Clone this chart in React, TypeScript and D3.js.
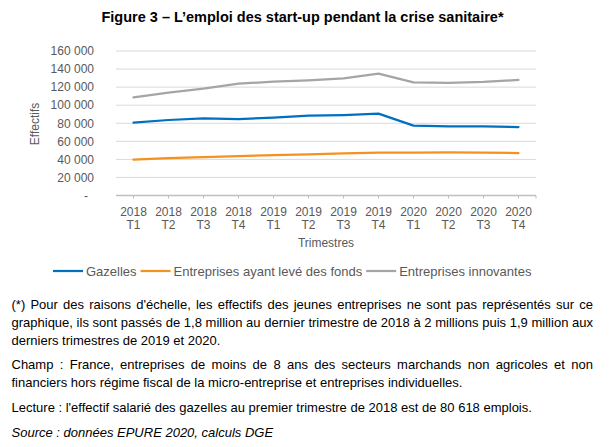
import React from "react";
import * as d3 from "d3";

const years = ["2018", "2018", "2018", "2018", "2019", "2019", "2019", "2019", "2020", "2020", "2020", "2020"];
const quarters = ["T1", "T2", "T3", "T4", "T1", "T2", "T3", "T4", "T1", "T2", "T3", "T4"];
const categories = years.map((y, i) => `${y} ${quarters[i]}`);

const gazelles = [80618, 83600, 85500, 84700, 86200, 88400, 89100, 90600, 77300, 76600, 76600, 75800];
const levees = [39700, 41500, 42600, 43700, 44800, 45600, 46700, 47400, 47400, 47800, 47400, 47000];
const innovantes = [108700, 113800, 118300, 123800, 126000, 127600, 129700, 134900, 125300, 124600, 125700, 127900];

const seriesNames = ["Gazelles", "Entreprises ayant levé des fonds", "Entreprises innovantes"];
const seriesColors = ["#0070C0", "#F59120", "#A5A5A5"];
const seriesValues = [gazelles, levees, innovantes];

const yTicks = [0, 20000, 40000, 60000, 80000, 100000, 120000, 140000, 160000];

const title = "Figure 3 – L’emploi des start-up pendant la crise sanitaire*";
const yTitle = "Effectifs";
const xTitle = "Trimestres";

const notes: { text: string; justify: boolean; italic?: boolean; gapBefore: number }[] = [
  { text: "(*) Pour des raisons d'échelle, les effectifs des jeunes entreprises ne sont pas représentés sur ce", justify: true, gapBefore: 0 },
  { text: "graphique, ils sont passés de 1,8 million au dernier trimestre de 2018 à 2 millions puis 1,9 million aux", justify: true, gapBefore: 0 },
  { text: "derniers trimestres de 2019 et 2020.", justify: false, gapBefore: 0 },
  { text: "Champ : France, entreprises de moins de 8 ans des secteurs marchands non agricoles et non", justify: true, gapBefore: 1 },
  { text: "financiers hors régime fiscal de la micro-entreprise et entreprises individuelles.", justify: false, gapBefore: 0 },
  { text: "Lecture : l'effectif salarié des gazelles au premier trimestre de 2018 est de 80 618 emplois.", justify: false, gapBefore: 1 },
  { text: "Source : données EPURE 2020, calculs DGE", justify: false, italic: true, gapBefore: 1 },
];

const FONT = "'Liberation Sans', Arial, sans-serif";

let ctx: CanvasRenderingContext2D | null = null;
function measure(text: string, font: string): number {
  if (!ctx) ctx = document.createElement("canvas").getContext("2d");
  if (!ctx) return text.length * 6;
  ctx.font = font;
  return ctx.measureText(text).width;
}

const locale = d3.formatLocale({ thousands: " ", grouping: [3], decimal: ",", currency: ["", " €"] });
const fmt = locale.format(",");

export default function App() {
  const W = 612, H = 447;
  const left = 116, right = 536, top = 51, bottom = 195.5;
  const x = d3.scaleBand<string>().domain(categories).range([left, right]).padding(0);
  const y = d3.scaleLinear().domain([0, 160000]).range([bottom, top]);
  const cx = (c: string) => (x(c) as number) + x.bandwidth() / 2;
  const line = d3.line<number>().x((_, i) => cx(categories[i])).y((v) => y(v));

  // legend layout
  const legFont = `13px ${FONT}`;
  let lx = 53;
  const legendItems = seriesNames.map((n, i) => {
    const item = { x: lx, name: n, color: seriesColors[i] };
    lx += 30 + 3 + measure(n, legFont) + 4;
    return item;
  });

  // notes layout
  const noteLeft = 11.5, noteRight = 593;
  let ny = 309;
  const noteEls = notes.map((n, i) => {
    if (i > 0) ny += 17.8 + n.gapBefore * 7;
    const font = `${n.italic ? "italic " : ""}13px ${FONT}`;
    let ws = 0;
    if (n.justify) {
      const w = measure(n.text, font);
      const spaces = (n.text.match(/ /g) || []).length;
      ws = (noteRight - noteLeft - w) / spaces;
    }
    return (
      <text key={i} x={noteLeft} y={ny} fontSize={13} fontFamily={FONT} fill="#000"
        fontStyle={n.italic ? "italic" : "normal"} style={{ wordSpacing: `${ws}px` }}>
        {n.text}
      </text>
    );
  });

  return (
    <svg width={W} height={H} style={{ position: "absolute", left: 0, top: 0, background: "#fff" }}>
      <text x={302.5} y={21.5} textAnchor="middle" fontSize={14.5} fontWeight="bold" fontFamily={FONT} fill="#000">{title}</text>

      {yTicks.map((t) => (
        <g key={t}>
          {t > 0 && <line x1={left} x2={right} y1={y(t)} y2={y(t)} stroke="#D9D9D9" strokeWidth={1} />}
          <text x={t === 0 ? 88 : 94} y={y(t) + 4.3} textAnchor="end" fontSize={12} fontFamily={FONT} fill="#595959">
            {t === 0 ? "-" : fmt(t)}
          </text>
        </g>
      ))}
      <line x1={left} x2={right} y1={bottom} y2={bottom} stroke="#BFBFBF" strokeWidth={1.3} />
      {categories.map((c, i) => (
        <g key={c}>
          <line x1={cx(c)} x2={cx(c)} y1={bottom} y2={bottom + 3} stroke="#BFBFBF" strokeWidth={1} />
          <text x={cx(c)} y={215.5} textAnchor="middle" fontSize={12} fontFamily={FONT} fill="#595959">{years[i]}</text>
          <text x={cx(c)} y={228.5} textAnchor="middle" fontSize={12} fontFamily={FONT} fill="#595959">{quarters[i]}</text>
        </g>
      ))}
      <line x1={right} x2={right} y1={bottom} y2={bottom + 3} stroke="#BFBFBF" strokeWidth={1} />
      <text x={(left + right) / 2} y={246.5} textAnchor="middle" fontSize={12} fontFamily={FONT} fill="#595959">{xTitle}</text>
      <text transform={`translate(38.5, 124) rotate(-90)`} textAnchor="middle" fontSize={12} fontFamily={FONT} fill="#595959">{yTitle}</text>

      {seriesValues.map((vals, i) => (
        <path key={i} d={line(vals) || ""} fill="none" stroke={seriesColors[i]} strokeWidth={2.25} strokeLinejoin="round" strokeLinecap="round" />
      ))}

      {legendItems.map((it) => (
        <g key={it.name}>
          <line x1={it.x} x2={it.x + 30} y1={271} y2={271} stroke={it.color} strokeWidth={2.25} />
          <text x={it.x + 33} y={275.5} fontSize={13} fontFamily={FONT} fill="#595959">{it.name}</text>
        </g>
      ))}

      {noteEls}
    </svg>
  );
}
